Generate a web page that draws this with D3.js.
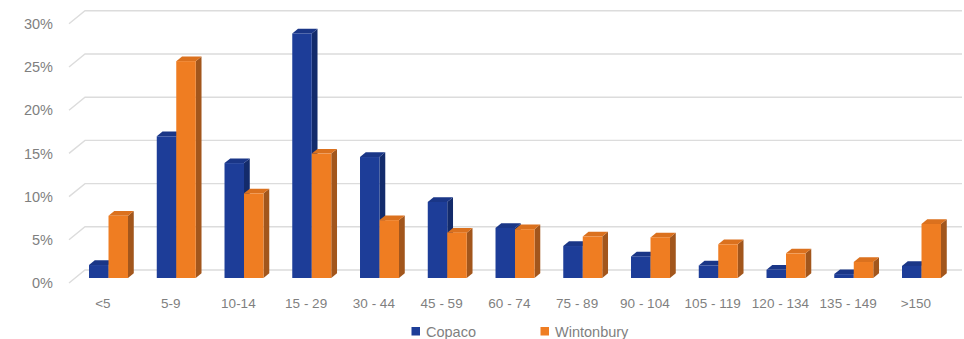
<!DOCTYPE html>
<html>
<head>
<meta charset="utf-8">
<script src="https://cdn.jsdelivr.net/npm/d3@7"></script>
<style>
  html, body { margin: 0; padding: 0; background: #ffffff; }
  svg { display: block; }
  text { font-family: "Liberation Sans", Arial, sans-serif; fill: #7f7f7f; }
</style>
</head>
<body>
<svg id="chart" width="964" height="339"></svg>
<script>
// Share of residents by age band, two towns
const categories = ["<5", "5-9", "10-14", "15 - 29", "30 - 44", "45 - 59", "60 - 74",
  "75 - 89", "90 - 104", "105 - 119", "120 - 134", "135 - 149", ">150"];
const seriesNames = ["Copaco", "Wintonbury"];
const copaco = [1.5, 16.4, 13.3, 28.3, 14.0, 8.8, 5.8, 3.7, 2.5, 1.45, 0.95, 0.45, 1.4];
const wintonbury = [7.2, 25.1, 9.8, 14.4, 6.7, 5.25, 5.65, 4.8, 4.7, 3.9, 2.85, 1.85, 6.25];
const yTicks = [0, 5, 10, 15, 20, 25, 30];

const seriesValues = [copaco, wintonbury];
const colors = {
  Copaco:     { front: "#1d3d98", top: "#1a3687", side: "#132b6b" },
  Wintonbury: { front: "#ef7d22", top: "#db711e", side: "#a2561c" }
};

const svg = d3.select("#chart");

// Oblique projection: the floor runs from the front plane back by (depthX, depthY)
const depthX = 16, depthY = -13;
const barFront = 0.385;   // bar front face, as fraction of floor depth
const barDepth = 0.36;    // bar thickness, as fraction of floor depth

const x0 = d3.scaleBand().domain(categories).range([69, 69 + 13 * 67.75]);
const x1 = d3.scaleBand().domain(seriesNames).range([0, 39]);
const groupOffset = 13.85;
const y = d3.scaleLinear().domain([0, 30]).range([283, 283 - 259.2]);

// Gridlines on the back wall with the slanted floor edge on the left
const grid = svg.append("g").attr("class", "grid");
yTicks.forEach(t => {
  const yf = y(t), yb = y(t) + depthY;
  grid.append("path")
    .attr("d", `M${x0.range()[0]},${yf} L${x0.range()[0] + depthX},${yb} L962,${yb}`)
    .attr("fill", "none")
    .attr("stroke", "#dcdcdc")
    .attr("stroke-width", 1.4);
});

// Y-axis labels at the front plane
const yAxis = d3.axisLeft(y).tickValues(yTicks).tickFormat(d => d + "%").tickSize(0).tickPadding(0);
const yg = svg.append("g").attr("transform", "translate(53,0)").call(yAxis);
yg.select(".domain").remove();
yg.selectAll("text").attr("font-size", 14.5).attr("fill", "#7f7f7f")
  .style("font-family", "'Liberation Sans', Arial, sans-serif");

// Bars: front face, top face and right side face
const fx = depthX * barFront, fy = depthY * barFront;
const bx = depthX * barDepth, by = depthY * barDepth;
const bars = svg.append("g").attr("class", "bars");
categories.forEach((cat, i) => {
  seriesNames.forEach((name, s) => {
    const v = seriesValues[s][i];
    const left = x0(cat) + fx + groupOffset + x1(name);
    const w = x1.bandwidth();
    const yBase = y(0) + fy;
    const yTop = y(v) + fy;
    const c = colors[name];
    const g = bars.append("g");
    g.append("path")
      .attr("d", `M${left + w},${yBase} L${left + w + bx},${yBase + by} L${left + w + bx},${yTop + by} L${left + w},${yTop} Z`)
      .attr("fill", c.side);
    g.append("path")
      .attr("d", `M${left},${yTop} L${left + bx},${yTop + by} L${left + w + bx},${yTop + by} L${left + w},${yTop} Z`)
      .attr("fill", c.top);
    g.append("rect")
      .attr("x", left).attr("y", yTop)
      .attr("width", w).attr("height", yBase - yTop)
      .attr("fill", c.front);
  });
});

// Category labels along the front edge
const xAxis = d3.axisBottom(x0).tickSize(0).tickPadding(0);
const xg = svg.append("g").attr("transform", "translate(0,298)").call(xAxis);
xg.select(".domain").remove();
xg.selectAll("text").attr("font-size", 13.5).attr("fill", "#7f7f7f")
  .attr("dy", "0.71em")
  .style("font-family", "'Liberation Sans', Arial, sans-serif");

// Legend
const legendX = [411.5, 540.5];
const legend = svg.append("g").attr("class", "legend");
seriesNames.forEach((name, s) => {
  legend.append("rect")
    .attr("x", legendX[s]).attr("y", 327)
    .attr("width", 8.5).attr("height", 8.5)
    .attr("fill", colors[name].front);
  legend.append("text")
    .attr("x", legendX[s] + 14.5).attr("y", 331.5)
    .attr("dy", "0.35em")
    .attr("font-size", 14.5)
    .text(name);
});
</script>
</body>
</html>
